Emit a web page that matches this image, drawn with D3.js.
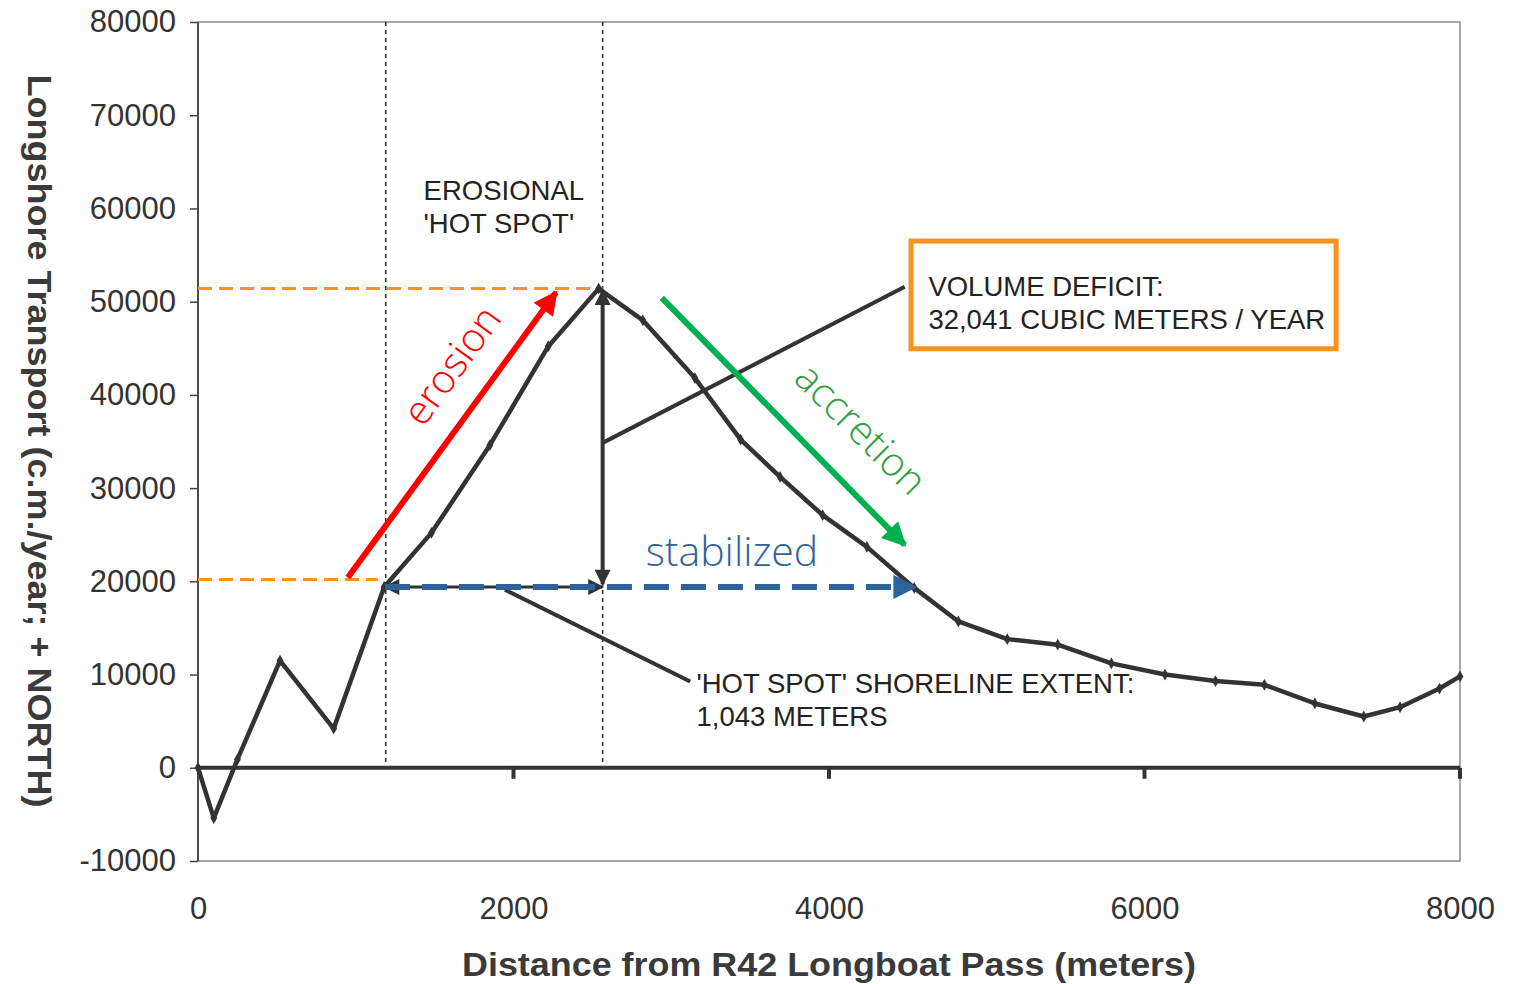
<!DOCTYPE html>
<html><head><meta charset="utf-8">
<script src="https://cdn.jsdelivr.net/npm/d3@7/dist/d3.min.js"></script>
<style>body{margin:0;background:#fff}svg{display:block}</style>
</head><body>
<script>
// ---- data ----
const distance = [0,100,250,520,860,1180,1480,1850,2220,2540,2820,3150,3440,3690,3960,4240,4540,4820,5130,5450,5790,6130,6450,6760,7080,7390,7620,7870,8000];
const transport = [0,-5400,900,11500,4200,19400,25200,34600,45200,51400,48000,41800,35200,31200,27100,23700,19300,15700,13800,13200,11200,10000,9300,8900,6900,5500,6500,8500,9800];
const xTicks = [0,2000,4000,6000,8000];
const yTicks = [-10000,0,10000,20000,30000,40000,50000,60000,70000,80000];
const hotSpotBounds = [1190,2565];
const peakLevel = 51400, baseLevel = 20200, stabilizedLevel = 19400;
const erosionArrow = [[950,20400],[2270,51000]];
const accretionArrow = [[2940,50400],[4480,23900]];
const stabilizedArrow = [1185,4545];
const deficitArrow = [51200,19700];
const leaderDeficit = [[2565,34850],[4480,51600]];
const leaderExtent = [[1946,19100],[3120,9250]];
const deficitBox = [[4520,56500],[7215,44950]];
const labels = {
  xTitle:"Distance from R42 Longboat Pass (meters)",
  yTitle:"Longshore Transport (c.m./year; + NORTH)",
  hot:["EROSIONAL","'HOT SPOT'"],
  deficit:["VOLUME DEFICIT:","32,041 CUBIC METERS / YEAR"],
  extent:["'HOT SPOT' SHORELINE EXTENT:","1,043 METERS"]
};

const W=1516,H=984;
const svg=d3.select("body").append("svg").attr("width",W).attr("height",H);
const x=d3.scaleLinear().domain([0,8000]).range([198,1460]);
const y=d3.scaleLinear().domain([-10000,80000]).range([861,22]);
const dark="#333";
const fmt=d=>String(d);

const defs=svg.append("defs");
function marker(id,color,w,h){
  defs.append("marker").attr("id",id).attr("viewBox","0 0 10 10").attr("refX",9).attr("refY",5)
    .attr("markerUnits","userSpaceOnUse").attr("markerWidth",w).attr("markerHeight",h).attr("orient","auto-start-reverse")
    .append("path").attr("d","M0,0L10,5L0,10z").attr("fill",color);
}
marker("ablack",dark,20,16);
marker("ared","#ff0000",26,24);
marker("agreen","#00b050",26,24);
marker("ablue","#2e6399",26,24);

// frame
svg.append("rect").attr("x",x(0)).attr("y",y(80000)).attr("width",x(8000)-x(0)).attr("height",y(-10000)-y(80000))
  .attr("fill","none").attr("stroke","#777").attr("stroke-width",1.3);
svg.append("line").attr("x1",x(0)).attr("x2",x(0)).attr("y1",y(80000)).attr("y2",y(-10000)).attr("stroke","#444").attr("stroke-width",1.8);

// y axis
const yAxis=svg.append("g").attr("transform",`translate(${x(0)},0)`).call(d3.axisLeft(y).tickValues(yTicks).tickSize(8).tickFormat(fmt));
yAxis.select(".domain").remove();
yAxis.selectAll(".tick line").attr("stroke","#444").attr("stroke-width",1.5);
yAxis.selectAll("text").attr("x",-22).attr("font-family","Liberation Sans, Arial, sans-serif").attr("font-size",31).attr("fill","#333");

// x axis labels
const xAxis=svg.append("g").attr("transform",`translate(0,${y(-10000)})`).call(d3.axisBottom(x).tickValues(xTicks).tickSize(0).tickFormat(fmt));
xAxis.select(".domain").remove();
xAxis.selectAll("text").attr("y",36).attr("font-family","Liberation Sans, Arial, sans-serif").attr("font-size",31).attr("fill","#333");

// zero line with ticks
svg.append("line").attr("x1",x(0)).attr("x2",x(8000)).attr("y1",y(0)).attr("y2",y(0)).attr("stroke",dark).attr("stroke-width",4);
svg.selectAll(".zt").data(xTicks.slice(1)).enter().append("line")
  .attr("x1",d=>x(d)).attr("x2",d=>x(d)).attr("y1",y(0)).attr("y2",y(0)+11).attr("stroke",dark).attr("stroke-width",4);

// titles
svg.append("text").attr("x",829).attr("y",976).attr("text-anchor","middle")
  .attr("font-family","Liberation Sans, Arial, sans-serif").attr("font-weight","bold").attr("font-size",34)
  .attr("textLength",734).attr("lengthAdjust","spacingAndGlyphs").attr("fill","#3a3a3a").text(labels.xTitle);
svg.append("text").attr("transform","translate(28,441) rotate(90)").attr("text-anchor","middle")
  .attr("font-family","Liberation Sans Narrow, Arial Narrow, sans-serif").attr("font-weight","bold").attr("font-size",33)
  .attr("textLength",733).attr("lengthAdjust","spacingAndGlyphs").attr("fill","#3a3a3a").text(labels.yTitle);

// hot spot dotted bounds
svg.selectAll(".hb").data(hotSpotBounds).enter().append("line")
  .attr("x1",d=>x(d)).attr("x2",d=>x(d)).attr("y1",y(80000)).attr("y2",y(0)-4)
  .attr("stroke","#333").attr("stroke-width",1.6).attr("stroke-dasharray","4,4");

// orange dashed guides
svg.append("line").attr("x1",x(0)).attr("x2",x(hotSpotBounds[1])).attr("y1",y(peakLevel)).attr("y2",y(peakLevel))
  .attr("stroke","#f7941d").attr("stroke-width",3).attr("stroke-dasharray","14,7");
svg.append("line").attr("x1",x(0)).attr("x2",x(1140)).attr("y1",y(baseLevel)).attr("y2",y(baseLevel))
  .attr("stroke","#f7941d").attr("stroke-width",3).attr("stroke-dasharray","14,7");

// data line
const line=d3.line().x((d,i)=>x(distance[i])).y(d=>y(d));
svg.append("path").attr("d",line(transport)).attr("fill","none").attr("stroke",dark).attr("stroke-width",4.5).attr("stroke-linejoin","round");
svg.selectAll(".pt").data(transport).enter().append("path")
  .attr("transform",(d,i)=>`translate(${x(distance[i])},${y(d)})`).attr("d",d3.symbol(d3.symbolDiamond,40)).attr("fill",dark);

// black double arrow (stabilized extent, original)
svg.append("line").attr("x1",x(stabilizedArrow[0])).attr("x2",x(hotSpotBounds[1])).attr("y1",y(stabilizedLevel)).attr("y2",y(stabilizedLevel))
  .attr("stroke",dark).attr("stroke-width",3).attr("marker-start","url(#ablack)").attr("marker-end","url(#ablack)");
// vertical deficit arrow
svg.append("line").attr("x1",x(hotSpotBounds[1])).attr("x2",x(hotSpotBounds[1])).attr("y1",y(deficitArrow[0])).attr("y2",y(deficitArrow[1]))
  .attr("stroke",dark).attr("stroke-width",4).attr("marker-start","url(#ablack)").attr("marker-end","url(#ablack)");
// leaders
[leaderDeficit,leaderExtent].forEach(l=>svg.append("line").attr("x1",x(l[0][0])).attr("y1",y(l[0][1])).attr("x2",x(l[1][0])).attr("y2",y(l[1][1]))
  .attr("stroke",dark).attr("stroke-width",4));

// blue dashed stabilized arrow
svg.append("line").attr("x1",x(stabilizedArrow[0])).attr("x2",x(stabilizedArrow[1])-8).attr("y1",y(stabilizedLevel)).attr("y2",y(stabilizedLevel))
  .attr("stroke","#2e6399").attr("stroke-width",6).attr("stroke-dasharray","25,12");
svg.append("line").attr("x1",x(stabilizedArrow[1])-20).attr("x2",x(stabilizedArrow[1])).attr("y1",y(stabilizedLevel)).attr("y2",y(stabilizedLevel))
  .attr("stroke","#2e6399").attr("stroke-width",2).attr("marker-end","url(#ablue)");

// red & green arrows
function arrow(a,color,m){
  svg.append("line").attr("x1",x(a[0][0])).attr("y1",y(a[0][1])).attr("x2",x(a[1][0])).attr("y2",y(a[1][1]))
    .attr("stroke",color).attr("stroke-width",6).attr("marker-end",`url(#${m})`);
}
arrow(erosionArrow,"#ff0000","ared");
arrow(accretionArrow,"#00b050","agreen");

// script labels
const lf="Open Sans, Noto Sans, sans-serif";
svg.append("text").attr("transform",`translate(${x(1680)},${y(42300)}) rotate(-54)`).attr("text-anchor","middle")
  .attr("font-family",lf).attr("font-weight",300).attr("font-size",40).attr("fill","#ff0000").text("erosion");
svg.append("text").attr("transform",`translate(${x(4140)},${y(35300)}) rotate(45)`).attr("text-anchor","middle")
  .attr("font-family",lf).attr("font-weight",300).attr("font-size",40).attr("fill","#2e9e3e").text("accretion");
svg.append("text").attr("x",x(3385)).attr("y",y(21600)).attr("text-anchor","middle")
  .attr("font-family",lf).attr("font-weight",300).attr("font-size",41).attr("fill","#2e6399").text("stabilized");

// deficit box
svg.append("rect").attr("x",x(deficitBox[0][0])).attr("y",y(deficitBox[0][1])).attr("width",x(deficitBox[1][0])-x(deficitBox[0][0]))
  .attr("height",y(deficitBox[1][1])-y(deficitBox[0][1])).attr("fill","#fff").attr("stroke","#f7941d").attr("stroke-width",5);

// annotation text
const af="Liberation Sans, Arial, sans-serif";
function textBlock(lines,px,py,size){
  lines.forEach((t,i)=>svg.append("text").attr("x",x(px)).attr("y",y(py)+i*33).attr("font-family",af).attr("font-size",size).attr("fill","#222").text(t));
}
textBlock(labels.hot,1430,60900,27.5);
textBlock(labels.deficit,4630,50600,27.5);
textBlock(labels.extent,3160,8000,27.5);
</script>
</body></html>
